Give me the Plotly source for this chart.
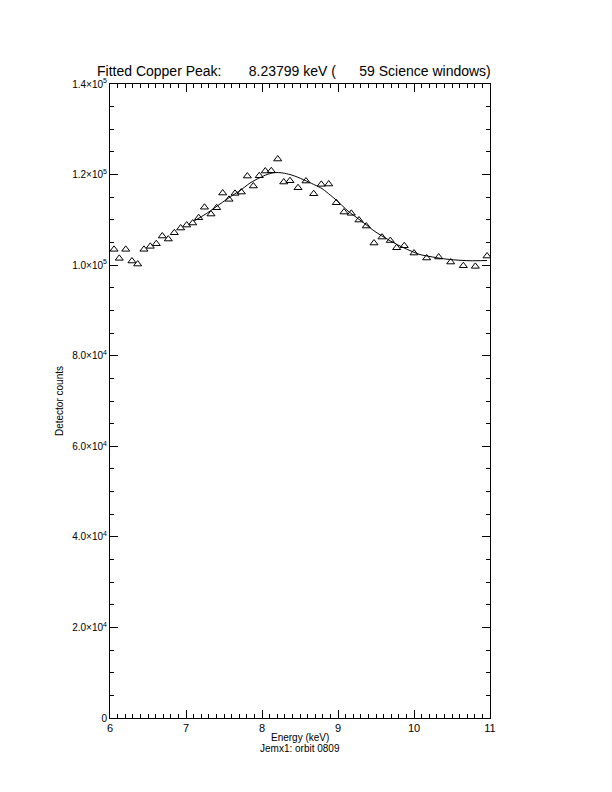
import plotly.graph_objects as go

# Observed data points (energy keV, detector counts)
energy = [6.053, 6.122, 6.207, 6.289, 6.364, 6.447, 6.530, 6.609, 6.688, 6.767,
          6.846, 6.930, 7.009, 7.088, 7.167, 7.243, 7.329, 7.404, 7.483, 7.566,
          7.645, 7.728, 7.807, 7.886, 7.964, 8.043, 8.122, 8.207, 8.286, 8.368,
          8.474, 8.579, 8.680, 8.780, 8.878, 8.978, 9.079, 9.175, 9.276, 9.372,
          9.474, 9.579, 9.688, 9.772, 9.872, 10.000, 10.167, 10.325, 10.483, 10.649,
          10.807, 10.961]
counts = [103490, 101500, 103490, 100910, 100240, 103490, 104150, 104730, 106430, 105760,
          107150, 108190, 108850, 109300, 110470, 112790, 111280, 112670, 115920, 114530,
          115850, 116140, 119670, 117470, 119740, 120780, 120840, 123430, 118350, 118640,
          117090, 118570, 115770, 117840, 117910, 113780, 111720, 111440, 109960, 108630,
          104880, 106200, 105430, 103840, 104280, 102670, 101570, 101790, 100680, 99870,
          99730, 102010]

# Fitted curve
fit_energy = [7.105, 7.184, 7.289, 7.447, 7.618, 7.711, 7.842, 7.974, 8.066, 8.132,
              8.197, 8.276, 8.368, 8.447, 8.526, 8.605, 8.697, 8.789, 8.961, 9.132,
              9.316, 9.487, 9.658, 9.816, 9.947, 10.079, 10.211, 10.382, 10.553, 10.737,
              10.961]
fit_counts = [109740, 110510, 111620, 113490, 115480, 116470, 118130, 119340, 120010, 120340,
              120450, 120340, 120010, 119570, 119010, 118420, 117690, 116910, 114600, 111950,
              109630, 107420, 105650, 104220, 103220, 102340, 101900, 101420, 101130, 100970,
              101020]

x_ticks = [6, 7, 8, 9, 10, 11]
y_ticks = [0, 20000, 40000, 60000, 80000, 100000, 120000, 140000]
y_tick_text = ["0", "2.0×10<sup>4</sup>", "4.0×10<sup>4</sup>", "6.0×10<sup>4</sup>",
               "8.0×10<sup>4</sup>", "1.0×10<sup>5</sup>", "1.2×10<sup>5</sup>", "1.4×10<sup>5</sup>"]

title_text = "Fitted Copper Peak:" + "\u00a0" * 7 + "8.23799 keV (" + "\u00a0" * 6 + "59 Science windows)"
x_title = "Energy (keV)"
x_subtitle = "Jemx1: orbit 0809"
y_title = "Detector counts"

FONT = "Liberation Sans"

fig = go.Figure()
fig.add_trace(go.Scatter(x=fit_energy, y=fit_counts, mode="lines",
                         line=dict(color="black", width=1, shape="spline", smoothing=0.6),
                         showlegend=False, hoverinfo="skip"))
fig.add_trace(go.Scatter(x=energy, y=counts, mode="markers",
                         marker=dict(symbol="triangle-up-open", size=7, color="black",
                                     line=dict(color="black", width=1)),
                         showlegend=False))

fig.update_layout(
    width=612, height=792,
    margin=dict(l=102, r=130, t=76, b=82, pad=0),
    paper_bgcolor="white", plot_bgcolor="white",
    font=dict(family=FONT, size=11, color="black"),
    xaxis=dict(range=[6, 11], tickvals=x_ticks, ticktext=[str(v) for v in x_ticks],
               ticks="inside", ticklen=8, tickwidth=1, tickcolor="black",
               minor=dict(dtick=0.1, ticks="inside", ticklen=4, tickwidth=1, tickcolor="black", showgrid=False),
               showline=True, linecolor="black", linewidth=1, mirror="ticks",
               showgrid=False, zeroline=False,
               tickfont=dict(size=11)),
    yaxis=dict(range=[0, 140000], tickvals=y_ticks, ticktext=y_tick_text,
               ticks="inside", ticklen=8, tickwidth=1, tickcolor="black",
               minor=dict(dtick=5000, ticks="inside", ticklen=4, tickwidth=1, tickcolor="black", showgrid=False),
               showline=True, linecolor="black", linewidth=1, mirror="ticks",
               showgrid=False, zeroline=False,
               title=dict(text=y_title, font=dict(size=10), standoff=6),
               tickfont=dict(size=10)),
    annotations=[
        dict(text=title_text, xref="paper", yref="paper", x=-0.037, y=1,
             xanchor="left", yanchor="bottom", yshift=4, showarrow=False, borderpad=0,
             font=dict(family=FONT, size=14, color="black")),
        dict(text=x_title, xref="paper", yref="paper", x=0.5, y=0,
             xanchor="center", yanchor="middle", yshift=-19, showarrow=False, borderpad=0,
             font=dict(family=FONT, size=10, color="black")),
        dict(text=x_subtitle, xref="paper", yref="paper", x=0.5, y=0,
             xanchor="center", yanchor="middle", yshift=-30, showarrow=False, borderpad=0,
             font=dict(family=FONT, size=10, color="black")),
    ],
)

fig.write_html("out.html")
